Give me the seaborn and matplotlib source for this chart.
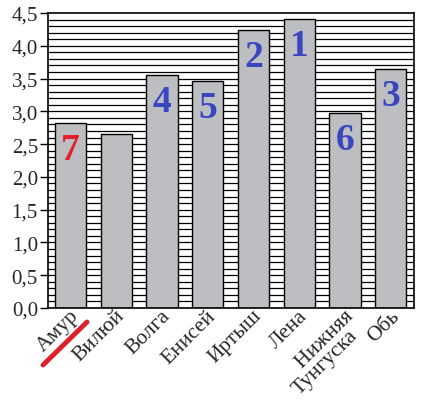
import numpy as np
import pandas as pd
import seaborn as sns
import matplotlib.pyplot as plt
from matplotlib.lines import Line2D
from matplotlib.transforms import ScaledTranslation

rivers = ["Амур", "Вилюй", "Волга", "Енисей", "Иртыш", "Лена", "    Нижняя\nТунгуска", "Обь"]
values = [2.82, 2.65, 3.56, 3.46, 4.24, 4.41, 2.98, 3.65]
ranks = ["7", "", "4", "5", "2", "1", "6", "3"]
rank_colors = ["#e0202a", "#3a45c0", "#3a45c0", "#3a45c0", "#3a45c0", "#3a45c0", "#3a45c0", "#3a45c0"]
yticks = np.arange(0, 4.51, 0.5)
ytick_labels = [f"{t:.1f}".replace(".", ",") for t in yticks]

df = pd.DataFrame({"river": rivers, "value": values})

sns.set_theme(style="white")
plt.rcParams['font.family'] = ['Liberation Serif', 'DejaVu Serif']

fig = plt.figure(figsize=(4.26, 4.02), dpi=100)
ax = fig.add_axes([47.6 / 426, 1 - 309 / 402, 366 / 426, 295 / 402])

# dense horizontal grid every 0.1
for g in np.arange(0.1, 4.5, 0.1):
    ax.axhline(g, color="black", lw=0.9, zorder=0)

sns.barplot(data=df, x="river", y="value", color="#bdbec2", saturation=1,
            edgecolor="black", linewidth=1.0, width=0.68, ax=ax, zorder=2)

ax.set_ylim(0, 4.5)
ax.set_xlim(-0.5, len(rivers) - 0.5)
ax.set_yticks(yticks)
ax.set_yticklabels(ytick_labels, fontsize=15)
ax.tick_params(axis="y", direction="out", length=6, width=1, color="black", pad=1, left=True)
ax.tick_params(axis="x", length=0, pad=0)
ax.set_xticks(range(len(rivers)))
ax.set_xticklabels(rivers, rotation=45, ha="right", rotation_mode="anchor",
                   fontsize=15.5, linespacing=0.85)
shift = ScaledTranslation(-1 / 100, 2 / 100, fig.dpi_scale_trans)
for lbl in ax.get_xticklabels():
    lbl.set_transform(lbl.get_transform() + shift)
    lbl.set_multialignment("left")
ax.set_xlabel("")
ax.set_ylabel("")
for sp in ax.spines.values():
    sp.set_color("black")
    sp.set_linewidth(1.2)

for i, (v, r, c) in enumerate(zip(values, ranks, rank_colors)):
    if r:
        ax.text(i, v - 0.14, r, ha="center", va="top", fontsize=27,
                fontweight="bold", color=c, zorder=3)

# red stroke under "Амур"
fig.add_artist(Line2D([43 / 426, 87 / 426], [1 - 366 / 402, 1 - 323 / 402],
                      color="#e0202a", lw=3.5, solid_capstyle="round"))

fig.savefig("out.png", dpi=100)
